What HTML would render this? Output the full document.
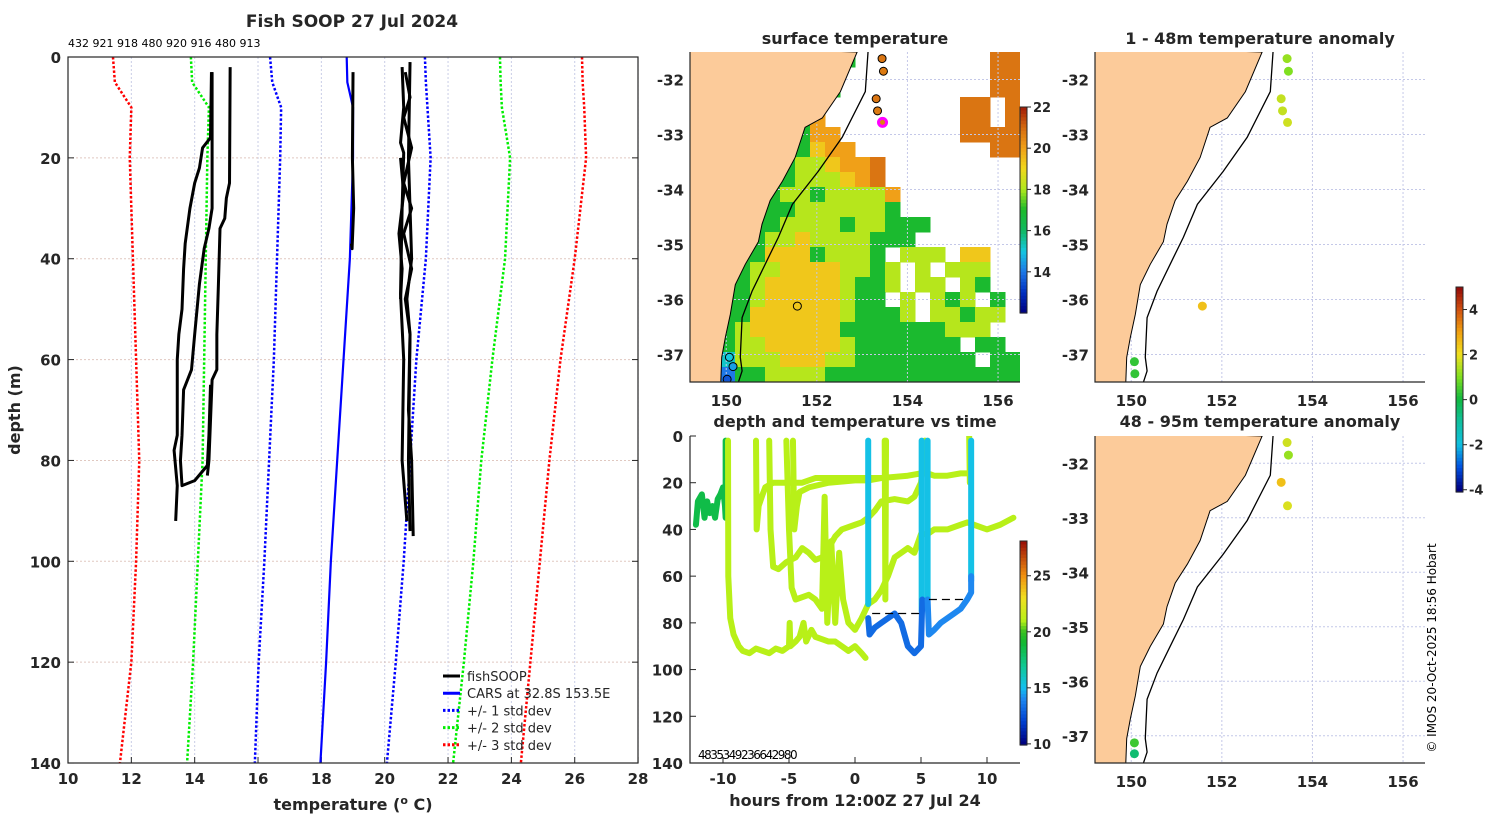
<!DOCTYPE html>
<html><head><meta charset="utf-8"><style>
html,body{margin:0;padding:0;background:#fff;}
svg{display:block;font-family:"DejaVu Sans","Liberation Sans",sans-serif;}
.b{font-weight:bold;fill:#262626;}
</style></head><body>
<svg id="fig" width="1500" height="820" viewBox="0 0 1500 820" xmlns="http://www.w3.org/2000/svg">
<defs>
<clipPath id="clipL"><rect x="68" y="57" width="570" height="706"/></clipPath>
<clipPath id="clipM"><rect x="690" y="52" width="330" height="330"/></clipPath>
<clipPath id="clipR1"><rect x="1095" y="52" width="330" height="330"/></clipPath>
<clipPath id="clipR2"><rect x="1095" y="436" width="330" height="327"/></clipPath>
<clipPath id="clipT"><rect x="690" y="436" width="330" height="327"/></clipPath>
</defs>
<text x="352" y="27" text-anchor="middle" font-size="17" class="b">Fish SOOP 27 Jul 2024</text>
<text x="68" y="47" font-size="11" fill="#000">432 921 918 480 920 916 480 913</text>
<text transform="translate(20,410) rotate(-90)" text-anchor="middle" font-size="16" class="b">depth (m)</text>
<text x="353" y="810" text-anchor="middle" font-size="16" class="b">temperature (<tspan dy="-6" font-size="11">o</tspan><tspan dy="6"> C)</tspan></text>
<text x="855" y="44" text-anchor="middle" font-size="16" class="b">surface temperature</text>
<text x="1260" y="44" text-anchor="middle" font-size="16" class="b">1 - 48m temperature anomaly</text>
<text x="855" y="427" text-anchor="middle" font-size="16" class="b">depth and temperature vs time</text>
<text x="1260" y="427" text-anchor="middle" font-size="16" class="b">48 - 95m temperature anomaly</text>
<text x="855" y="806" text-anchor="middle" font-size="16" class="b">hours from 12:00Z 27 Jul 24</text>
<text transform="translate(1436,648) rotate(-90)" text-anchor="middle" font-size="12" fill="#000">© IMOS 20-Oct-2025 18:56 Hobart</text>
<text x="698" y="759" font-size="12" fill="#000" letter-spacing="-1.5">4835349236642980</text>
</svg>
<script>
// ---------- data ----------
const profDepthTicks=[0,20,40,60,80,100,120,140];
const profTempTicks=[10,12,14,16,18,20,22,24,26,28];
const carsDepth=[0,5,10,20,40,60,80,100,120,140];
const carsMean=[18.8,18.82,19.0,19.0,18.9,18.7,18.5,18.3,18.15,17.97];
const sd1Lo=[16.38,16.45,16.73,16.7,16.6,16.5,16.35,16.2,16.02,15.9];
const sd1Hi=[21.27,21.3,21.35,21.45,21.3,21.0,20.8,20.6,20.35,20.07];
const sd2Lo=[13.88,13.92,14.45,14.4,14.35,14.3,14.25,14.1,13.95,13.76];
const sd2Hi=[23.64,23.66,23.7,23.96,23.8,23.4,23.05,22.8,22.5,22.16];
const sd3Lo=[11.42,11.48,12.0,11.95,12.05,12.15,12.25,12.15,12.0,11.64];
const sd3Hi=[26.23,26.25,26.3,26.36,26.0,25.55,25.2,24.9,24.6,24.3];
const p1T=[14.53,14.5,14.25,14.15,14.0,13.85,13.7,13.65,13.6,13.5,13.45,13.45,13.35,13.45,13.4];
const p1D=[3,16,18,22,25,30,37,42,50,55,60,75,78,85,92];
const p2T=[14.55,14.55,14.45,14.3,14.15,14.0,13.9,13.65,13.6,13.55,13.6,14.0,14.4,14.45,14.5];
const p2D=[3,30,34,38,45,55,62,66,75,80,85,84,81,75,65];
const p3T=[15.12,15.1,15.0,14.95,14.8,14.75,14.7,14.7,14.55,14.5,14.45,14.4];
const p3D=[2,25,28,32,34,45,55,62,64,72,80,83];
const p4T=[19.0,18.98,19.02,18.97,18.95];
const p4D=[3,20,30,38,37];
const w1T=[20.55,20.6,20.5,20.6,20.55,20.5,20.6,20.55,20.7];
const w1D=[2,10,17,19,30,47,60,80,92];
const w2T=[20.8,20.75,20.85,20.7,20.8,20.75,20.8];
const w2D=[1,20,40,48,55,80,94];
const w3T=[20.65,20.8,20.6,20.85,20.6,20.85,20.6,20.85,20.65,20.8,20.75,20.85,20.9];
const w3D=[3,8,12,18,25,30,35,42,48,55,70,80,95];
const w4T=[20.5,20.6,20.45,20.55,20.5];
const w4D=[20,27,35,42,48];
const legendLabels=["fishSOOP","CARS at 32.8S 153.5E","+/- 1 std dev","+/- 2 std dev","+/- 3 std dev"];

// time-depth tracks
const timeTicks=[-10,-5,0,5,10];
const tGreenT=[-12.05,-11.9,-11.6,-11.4,-11.2,-11.0,-10.8,-10.6,-10.4,-10.2,-10.0,-9.85,-9.8,-9.8];
const tGreenD=[38,28,25,35,28,33,30,35,27,25,22,30,35,2];
const tGreenC=18.5;
const tY1T=[-9.62,-9.6,-9.45,-9.2,-8.8,-8.5,-8,-7.5,-7,-6.5,-6,-5.5,-5,-4.95,-4.9,-4.5,-4.2,-3.9,-3.7,-3.3,-3,-2.5,-2,-1.5,-1,-0.5,0,0.5,0.8];
const tY1D=[2,60,78,85,90,92,93,91,92,93,91,92,90,80,90,88,86,80,88,83,86,87,88,88,90,92,90,93,95];
const tY2T=[-7.5,-7.45,-7.3,-7.0,-6.8,-6.2,-5,-4,-3,-2,0,2,4,5,5.5,6,7,8,8.6];
const tY2D=[2,40,30,25,22,20,20,20,18,18,18,18,17,16,16,17,17,16,16];
const tY3T=[-6.5,-6.4,-6.2,-5.8,-5.2,-4.5,-4,-3.5,-3,-2.5,-2,-1.5,-1,0,0.5,1,1.5,2,3,4,4.5,5,5.2,5.3];
const tY3D=[2,40,56,57,54,52,48,50,53,52,48,43,40,38,37,35,32,28,27,28,26,20,10,2];
const tY4T=[-5.2,-5.0,-4.8,-4.5,-4,-3.5,-3,-2.5,-2.3,-2.1,-1.8,-1.5,-1.2,-0.9,-0.5,0,0.5,1,1.5,2,2.5,3,3.5,4,4.5,5,5.5,6,7,8,8.5,9,10,11,12];
const tY4D=[2,40,65,70,69,68,70,74,26,80,45,80,50,70,80,83,78,72,70,66,60,52,50,48,50,42,42,40,40,38,37,38,40,38,35];
const tY5T=[-4.7,-4.6,-4.4,-4.2,-3.5,-2,0,1,2];
const tY5D=[2,40,30,24,22,20,19,19,18];
const tY6T=[2.25,2.3,2.35];
const tY6D=[2,70,2];
const tY7T=[8.65,8.7];
const tY7D=[0,20];
const tYC=21.0;
const tBlueT=[1,1.1,1.5,2,2.5,3,3.5,4,4.5,5,5.1];
const tBlueD=[78,85,82,80,78,76,80,90,93,90,70];
const tBlue2T=[5.5,5.6,6,6.5,7,7.5,8,8.5,8.8,8.8];
const tBlue2D=[70,85,83,80,78,76,74,70,67,60];
const tBlueC=13.2;
const tCyan1T=[1.0,1.0];const tCyan1D=[2,72];
const tCyan2T=[5.05,5.05];const tCyan2D=[2,75];
const tCyan3T=[5.5,5.5];const tCyan3D=[2,70];
const tCyan4T=[8.8,8.8];const tCyan4D=[2,62];
const tCyanC=15.2;
const dashT=[1.3,5.1,5.6,8.5];
const dashD=[76,76,70,70];

// maps
const lonTicks=[150,152,154,156];
const latTicks=[-32,-33,-34,-35,-36,-37];
const coastLon=[152.89,152.52,152.12,151.74,151.52,151.24,150.97,150.79,150.71,150.42,150.2,150.09,149.98,149.9,149.88];
const coastLat=[-31.5,-32.22,-32.7,-32.87,-33.42,-33.85,-34.2,-34.63,-34.95,-35.36,-35.73,-36.27,-36.69,-37.05,-37.5];
const shelfLon=[153.13,153.07,152.56,152.03,151.46,151.15,150.93,150.57,150.35,150.31,150.35,150.27];
const shelfLat=[-31.5,-32.22,-33.05,-33.67,-34.27,-34.87,-35.24,-35.85,-36.33,-37.05,-37.3,-37.5];
const sstPtLon=[153.44,153.47,153.31,153.34,153.45,151.57,150.07,150.15,150.02];
const sstPtLat=[-31.62,-31.85,-32.35,-32.57,-32.78,-36.12,-37.05,-37.22,-37.45];
const sstPtVal=[20.8,20.7,20.8,20.7,20.6,19.2,15.0,14.5,13.5];
const anom1Lon=[153.44,153.47,153.31,153.34,153.45,151.57,150.07,150.08];
const anom1Lat=[-31.62,-31.85,-32.35,-32.57,-32.78,-36.12,-37.13,-37.35];
const anom1Val=[1.2,1.0,1.6,1.6,1.7,2.5,0.3,0.3];
const anom2Lon=[153.44,153.47,153.31,153.45,150.07,150.07];
const anom2Lat=[-31.62,-31.85,-32.35,-32.78,-37.13,-37.33];
const anom2Val=[1.7,1.2,2.5,1.8,0.4,-0.5];
const sstTicks=[22,20,18,16,14];
const timeCbTicks=[25,20,15,10];
const anomTicks=[4,2,0,-2,-4];
const sstGrid=[
"LLLLLLLLLLLWWWWWWWWWOO",
"LLLLLLLLLLWWWWWWWWWWOO",
"LLLLLLLLLLWWWWWWWWWWOO",
"LLLLLLLLLWWWWWWWWWOOWO",
"LLLLLLLLoWWWWWWWWWOOWO",
"LLLLLLLgooWWWWWWWWOOOO",
"LLLLLLggyooWWWWWWWWWOO",
"LLLLLLgGGyooOWWWWWWWWW",
"LLLLLLgGGGyoOWWWWWWWWW",
"LLLLLgGGgGGGGoWWWWWWWW",
"LLLLLggGGGGGGgWWWWWWWW",
"LLLLggGGGGgGGgggWWWWWW",
"LLLLgGGyGGGGgggWWWWWWW",
"LLLLgyyygGGGgWGGGWyyWW",
"LLLgGGyyyyGGgGWGWGGGWW",
"LLLgGyyyyyGggGWGGWGgWW",
"LLLgGyyyyyGggWGWGgGWgW",
"LLLgyyyyyyGgggGWGGgGGW",
"LLLGyyyyyygggggggGGGWW",
"LLLGGyyyyyGgggggggWggW",
"LLcGGGyyyGGggggggggWgg",
"LLbggGGGGggggggggggggg"];
const sstCellVal={g:16.9,G:18.1,y:19.3,o:20.0,O:20.8,c:15.2,b:14.0,L:16.9};

// ---------- helpers ----------
const NS="http://www.w3.org/2000/svg";
const svg=document.getElementById('fig');
function mk(tag,attrs,parent){const e=document.createElementNS(NS,tag);for(const k in attrs)e.setAttribute(k,attrs[k]);(parent||svg).appendChild(e);return e;}
function hex(c){return [parseInt(c.substr(1,2),16),parseInt(c.substr(3,2),16),parseInt(c.substr(5,2),16)];}
function cmap(stops,v){if(v<=stops[0][0])return stops[0][1];for(let i=1;i<stops.length;i++){if(v<=stops[i][0]){const f=(v-stops[i-1][0])/(stops[i][0]-stops[i-1][0]);const a=hex(stops[i-1][1]),b=hex(stops[i][1]);return 'rgb('+a.map((x,j)=>Math.round(x+(b[j]-x)*f)).join(',')+')';}}return stops[stops.length-1][1];}
const sstStops=[[12,'#00007f'],[13,'#0030c0'],[14,'#1e78e6'],[15,'#14c8e0'],[16,'#10b860'],[17,'#1cba2a'],[18,'#b0e81c'],[19,'#f0d81c'],[20,'#f0a018'],[21,'#d46a10'],[22,'#a01a08']];
const timeStops=[[10,'#00007f'],[12,'#0040d0'],[14,'#1e88f0'],[15,'#14c0f0'],[17,'#10c890'],[19,'#10b830'],[20,'#38c020'],[21,'#b8f018'],[23,'#f0e020'],[25,'#f09010'],[28,'#9a1008']];
const anomStops=[[-4,'#00007f'],[-3,'#0050e0'],[-2,'#10c0e0'],[-1,'#10c0a0'],[0,'#10b840'],[1,'#80e020'],[2,'#f0e020'],[3,'#f0a010'],[4,'#d05010'],[5,'#900808']];

// ---------- left profile plot ----------
const px=t=>68+(t-10)*31.67, py=d=>57+d*5.043;
profTempTicks.forEach(t=>{const l=mk('line',{x1:px(t),x2:px(t),y1:57,y2:763,stroke:'#c9cde6','stroke-width':1,'stroke-dasharray':'2 2'});
 const tk=mk('line',{x1:px(t),x2:px(t),y1:763,y2:757,stroke:'#262626'});
 const tx=mk('text',{x:px(t),y:784,'text-anchor':'middle','font-size':15,class:'b'});tx.textContent=t;});
profDepthTicks.forEach(d=>{const l=mk('line',{x1:68,x2:638,y1:py(d),y2:py(d),stroke:'#e0c8c0','stroke-width':1,'stroke-dasharray':'2 2'});
 const a=mk('line',{x1:68,x2:74,y1:py(d),y2:py(d),stroke:'#262626'});
 const b=mk('line',{x1:632,x2:638,y1:py(d),y2:py(d),stroke:'#262626'});
 const tx=mk('text',{x:61,y:py(d)+6,'text-anchor':'end','font-size':15,class:'b'});tx.textContent=d;});
const gL=mk('g',{'clip-path':'url(#clipL)'});
function poly(T,D,fx,fy,attrs,parent,name){const p=mk('polyline',Object.assign({points:T.map((t,i)=>fx(t)+','+fy(D[i])).join(' '),fill:'none'},attrs),parent);return p;}
poly(sd3Lo,carsDepth,px,py,{stroke:'#ff0000','stroke-width':2.5,'stroke-dasharray':'2.5 2'},gL,'sd3-low');
poly(sd3Hi,carsDepth,px,py,{stroke:'#ff0000','stroke-width':2.5,'stroke-dasharray':'2.5 2'},gL,'sd3-high');
poly(sd2Lo,carsDepth,px,py,{stroke:'#00ee00','stroke-width':2.5,'stroke-dasharray':'2.5 2'},gL,'sd2-low');
poly(sd2Hi,carsDepth,px,py,{stroke:'#00ee00','stroke-width':2.5,'stroke-dasharray':'2.5 2'},gL,'sd2-high');
poly(sd1Lo,carsDepth,px,py,{stroke:'#0000ff','stroke-width':2.5,'stroke-dasharray':'2.5 2'},gL,'sd1-low');
poly(sd1Hi,carsDepth,px,py,{stroke:'#0000ff','stroke-width':2.5,'stroke-dasharray':'2.5 2'},gL,'sd1-high');
poly(carsMean,carsDepth,px,py,{stroke:'#0000ff','stroke-width':2.2},gL,'cars-mean');
[[p1T,p1D],[p2T,p2D],[p3T,p3D],[p4T,p4D],[w1T,w1D],[w2T,w2D],[w3T,w3D],[w4T,w4D]].forEach(p=>poly(p[0],p[1],px,py,{stroke:'#000','stroke-width':3,'stroke-linejoin':'round'},gL,'fishsoop-profile'));
const boxL=mk('rect',{x:68,y:57,width:570,height:706,fill:'none',stroke:'#262626','stroke-width':1.2});
const legStyles=[{stroke:'#000'},{stroke:'#0000ff'},{stroke:'#0000ff','stroke-dasharray':'2.5 2'},{stroke:'#00ee00','stroke-dasharray':'2.5 2'},{stroke:'#ff0000','stroke-dasharray':'2.5 2'}];
legendLabels.forEach((s,i)=>{const y=676+i*17.2;const l=mk('line',Object.assign({x1:443,x2:460,y1:y,y2:y,'stroke-width':3},legStyles[i]));
 const t=mk('text',{x:467,y:y+5,'font-size':13,fill:'#262626'});t.textContent=s;});

// ---------- maps ----------
function mapAxes(x0,y0,h,clip,name,showLon){
 const mx=l=>x0+(l-149.2)*45.3, my=a=>y0+(-31.5-a)*(h/6);
 const g=mk('g',{'clip-path':'url(#'+clip+')'});
 return {mx,my,g,finish(){
  lonTicks.forEach(l=>{const gl=mk('line',{x1:mx(l),x2:mx(l),y1:y0,y2:y0+h,stroke:'#c4c8e8','stroke-dasharray':'2 2'},g);
   if(showLon){const t=mk('text',{x:mx(l),y:y0+h+24,'text-anchor':'middle','font-size':15,class:'b'});t.textContent=l;}});
  latTicks.forEach(a=>{const gl=mk('line',{x1:x0,x2:x0+330,y1:my(a),y2:my(a),stroke:'#c4c8e8','stroke-dasharray':'2 2'},g);
   const t=mk('text',{x:x0-6,y:my(a)+6,'text-anchor':'end','font-size':15,class:'b'});t.textContent=a;});
 }};
}
function land(m){
 const pts=[[m.mx(149.0),m.my(-31.4)]].concat(coastLon.map((l,i)=>[m.mx(l),m.my(coastLat[i])])).concat([[m.mx(149.0),m.my(-37.6)]]);
 const p=mk('polygon',{points:pts.map(p=>p.join(',')).join(' '),fill:'#fccb9a',stroke:'#000','stroke-width':1},m.g);
 poly(shelfLon,shelfLat,m.mx,m.my,{stroke:'#000','stroke-width':1.3},m.g,'shelf-isobath');
}
// SST map
const M=mapAxes(690,52,330,'clipM','sst-map',true);
sstGrid.forEach((row,j)=>{for(let i=0;i<row.length;i++){const ch=row[i];if(ch==='W')continue;
 const r=mk('rect',{x:690+i*15,y:52+j*15,width:15.5,height:15.5,fill:cmap(sstStops,sstCellVal[ch])},M.g);}});
M.finish();land(M);
sstPtLon.forEach((l,i)=>{const c=mk('circle',{cx:M.mx(l),cy:M.my(sstPtLat[i]),r:4,fill:i===5?'none':cmap(sstStops,sstPtVal[i]),stroke:i===4?'#ff00ff':'#000','stroke-width':i===4?3:1},M.g);});
// anomaly maps
const A1=mapAxes(1095,52,330,'clipR1','anomaly-map-1',true);A1.finish();land(A1);
anom1Lon.forEach((l,i)=>{const c=mk('circle',{cx:A1.mx(l),cy:A1.my(anom1Lat[i]),r:4.5,fill:cmap(anomStops,anom1Val[i])},A1.g);});
const A2=mapAxes(1095,436,327,'clipR2','anomaly-map-2',true);A2.finish();land(A2);
anom2Lon.forEach((l,i)=>{const c=mk('circle',{cx:A2.mx(l),cy:A2.my(anom2Lat[i]),r:4.5,fill:cmap(anomStops,anom2Val[i])},A2.g);});
[[690,382,1020,'sst-map'],[1095,382,1425,'anomaly-map-1'],[1095,763,1425,'anomaly-map-2']].forEach(a=>{
 const b=mk('polyline',{points:a[0]+','+(a[1]-330+(a[1]===763?3:0))+' '+a[0]+','+a[1]+' '+a[2]+','+a[1],fill:'none',stroke:'#262626','stroke-width':1.2});});

// ---------- time plot ----------
const hx=h=>855+h*13.2, hy=d=>436+d*327/140;
timeTicks.forEach(t=>{const tk=mk('line',{x1:hx(t),x2:hx(t),y1:763,y2:757,stroke:'#262626'});
 const tx=mk('text',{x:hx(t),y:784,'text-anchor':'middle','font-size':15,class:'b'});tx.textContent=t;});
profDepthTicks.forEach(d=>{const tk=mk('line',{x1:690,x2:696,y1:hy(d),y2:hy(d),stroke:'#262626'});
 const tx=mk('text',{x:683,y:hy(d)+6,'text-anchor':'end','font-size':15,class:'b'});tx.textContent=d;});
const gT=mk('g',{'clip-path':'url(#clipT)'});
const trackStyle=c=>({stroke:cmap(timeStops,c),'stroke-width':6,'stroke-linejoin':'round','stroke-linecap':'round'});
poly(tGreenT,tGreenD,hx,hy,trackStyle(tGreenC),gT,'track-green');
[[tY1T,tY1D],[tY2T,tY2D],[tY3T,tY3D],[tY4T,tY4D],[tY5T,tY5D],[tY6T,tY6D],[tY7T,tY7D]].forEach(p=>poly(p[0],p[1],hx,hy,trackStyle(tYC),gT,'track-yellow'));
[[tCyan1T,tCyan1D],[tCyan2T,tCyan2D],[tCyan3T,tCyan3D],[tCyan4T,tCyan4D]].forEach(p=>poly(p[0],p[1],hx,hy,trackStyle(tCyanC),gT,'track-cyan'));
poly(tBlueT,tBlueD,hx,hy,trackStyle(tBlueC),gT,'track-blue');
poly(tBlue2T,tBlue2D,hx,hy,trackStyle(14.0),gT,'track-blue-2');
for(let i=0;i<dashT.length;i+=2){const l=mk('line',{x1:hx(dashT[i]),x2:hx(dashT[i+1]),y1:hy(dashD[i]),y2:hy(dashD[i+1]),stroke:'#000','stroke-width':1.2,'stroke-dasharray':'8 5'},gT);}
const axT=mk('polyline',{points:'690,436 690,763 1020,763',fill:'none',stroke:'#262626','stroke-width':1.2});

// ---------- colorbars ----------
function colorbar(x,yTop,yBot,vTop,vBot,stops,ticks,name){
 const n=60;for(let k=0;k<n;k++){const v=vTop+(vBot-vTop)*(k+0.5)/n;const r=mk('rect',{x:x,y:yTop+(yBot-yTop)*k/n,width:7,height:(yBot-yTop)/n+0.6,fill:cmap(stops,v)});}
 const b=mk('rect',{x:x,y:yTop,width:7,height:yBot-yTop,fill:'none',stroke:'#262626','stroke-width':1});
 ticks.forEach(t=>{const y=yTop+(t-vTop)/(vBot-vTop)*(yBot-yTop);const tk=mk('line',{x1:x+7,x2:x+11,y1:y,y2:y,stroke:'#262626'});
  const tx=mk('text',{x:x+13,y:y+5,'font-size':13,class:'b'});tx.textContent=t;});
}
colorbar(1020,107,313,22,12,sstStops,sstTicks,'sst-colorbar');
colorbar(1020,541,745,28.1,9.9,timeStops,timeCbTicks,'time-colorbar');
colorbar(1456,287,492,5.0,-4.1,anomStops,anomTicks,'anomaly-colorbar');
</script>
</body></html>
